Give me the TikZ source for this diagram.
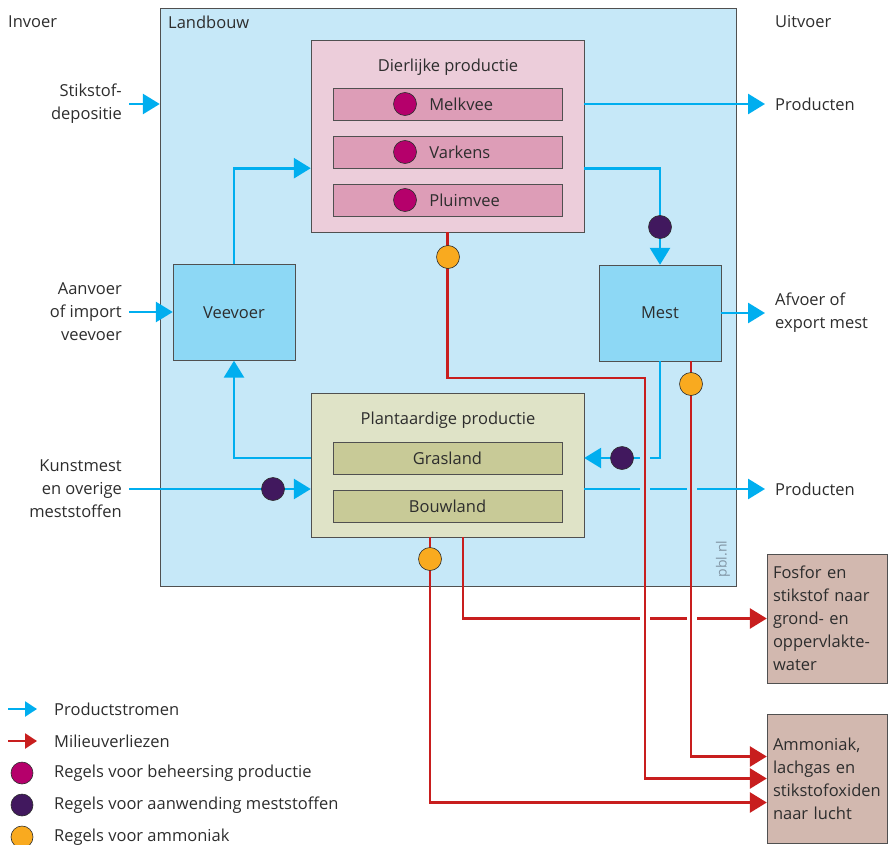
\documentclass[tikz,border=0pt]{standalone}
\usepackage{fontspec}
\setmainfont{Open Sans}
\usetikzlibrary{arrows, arrows.meta, positioning}
\definecolor{colorland}{RGB}{198, 232, 248}
\definecolor{colordier}{RGB}{236, 205, 218}
\definecolor{colordieritem}{RGB}{221, 157, 183}
\definecolor{colorplant}{RGB}{223, 227, 199}
\definecolor{colorplantitem}{RGB}{200, 202, 151}
\definecolor{colorstore}{RGB}{141, 216, 245}
\definecolor{colorloss}{RGB}{210, 184, 175}
\definecolor{colorblue}{RGB}{0, 174, 239}
\definecolor{colorred}{RGB}{200, 30, 30}
\definecolor{colormagenta}{RGB}{181, 0, 107}
\definecolor{colorpurple}{RGB}{65, 24, 94}
\definecolor{colororange}{RGB}{249, 170, 31}
\definecolor{colorborder}{RGB}{80, 80, 80}
\definecolor{colortext}{RGB}{45, 45, 45}
\definecolor{colorpbl}{RGB}{130, 150, 165}
\tikzstyle{landbox} = [rectangle, minimum width=576pt, minimum height=578pt, draw=colorborder, fill=colorland]
\tikzstyle{dierbox} = [rectangle, minimum width=273pt, minimum height=192pt, draw=colorborder, fill=colordier]
\tikzstyle{dieritem} = [rectangle, minimum width=229pt, minimum height=32pt, draw=colorborder, fill=colordieritem]
\tikzstyle{plantbox} = [rectangle, minimum width=273pt, minimum height=144pt, draw=colorborder, fill=colorplant]
\tikzstyle{plantitem} = [rectangle, minimum width=229pt, minimum height=32pt, text centered, draw=colorborder, fill=colorplantitem]
\tikzstyle{opslag} = [rectangle, minimum width=122pt, minimum height=96pt, text centered, draw=colorborder, fill=colorstore]
\tikzstyle{verlies} = [rectangle, minimum width=120pt, minimum height=129pt, text width=108pt, inner xsep=6pt, align=left, draw=colorborder, fill=colorloss]
\tikzstyle{titel} = [anchor=west, inner xsep=0pt]
\tikzstyle{invoertekst} = [anchor=east, align=right, inner xsep=7pt]
\tikzstyle{uitvoertekst} = [anchor=west, align=left, inner xsep=10pt]
\tikzstyle{legendtekst} = [anchor=west, inner xsep=0pt]
\tikzstyle{beheersregel} = [circle, minimum size=23pt, inner sep=0pt, draw=colortext, line width=0.6pt, fill=colormagenta]
\tikzstyle{aanwendregel} = [circle, minimum size=23pt, inner sep=0pt, draw=colortext, line width=0.6pt, fill=colorpurple]
\tikzstyle{ammoniakregel} = [circle, minimum size=23pt, inner sep=0pt, draw=colortext, line width=0.6pt, fill=colororange]
\tikzstyle{arrow} = [line width=2.8pt, draw=colorblue, -{Triangle[length=17pt,width=20pt]}]
\tikzstyle{redarrow} = [line width=2.8pt, draw=colorred, -{Triangle[length=17pt,width=20pt]}]
\tikzstyle{legendarrow} = [line width=2.4pt, draw=colorblue, -{Triangle[length=12pt,width=15pt]}]
\tikzstyle{redlegendarrow} = [line width=2.4pt, draw=colorred, -{Triangle[length=12pt,width=15pt]}]

\begin{document}
\begin{tikzpicture}[x=1pt, y=-1pt, node distance=48pt, text=colortext, font=\fontsize{16.5pt}{23pt}\selectfont]
\useasboundingbox (0,0) rectangle (888,845);

% Nodes
\node (landbouw) [landbox] at (448,297) {};
\node (invoer) [titel] at (8,22) {Invoer};
\node (landbouwtitel) [titel] at (168,22) {Landbouw};
\node (uitvoer) [titel] at (775,22) {Uitvoer};

\node (dier) [dierbox] at (447.5,136) {};
\node (diertitel) at (448,67) {Dierlijke productie};
\node (melkvee) [dieritem] at (447.5,104) {};
\node (varkens) [dieritem, below of=melkvee] {};
\node (pluimvee) [dieritem, below of=varkens] {};
\node (beheersdot1) [beheersregel] at (405,104) {};
\node (beheersdot2) [beheersregel, below of=beheersdot1] {};
\node (beheersdot3) [beheersregel, below of=beheersdot2] {};
\node [right=9pt of beheersdot1] {Melkvee};
\node [right=9pt of beheersdot2] {Varkens};
\node [right=9pt of beheersdot3] {Pluimvee};

\node (veevoer) [opslag] at (234,312.5) {Veevoer};
\node (mest) [opslag] at (660,313) {Mest};

\node (plant) [plantbox] at (447.5,465) {};
\node (planttitel) at (448,420) {Plantaardige productie};
\node (grasland) [plantitem] at (447.5,458) {Grasland};
\node (bouwland) [plantitem, below of=grasland] {Bouwland};

\node (stikstof) [invoertekst] at (129,104) {Stikstof-\\depositie};
\node (aanvoer) [invoertekst] at (129,312) {Aanvoer\\of import\\veevoer};
\node (kunstmest) [invoertekst] at (129,489) {Kunstmest\\en overige\\meststoffen};

\node (producten1) [uitvoertekst] at (765,104) {Producten};
\node (afvoer) [uitvoertekst] at (765,313) {Afvoer of\\export mest};
\node (producten2) [uitvoertekst] at (765,489) {Producten};

\node (fosfor) [verlies] at (827,618.5) {Fosfor en\\stikstof naar\\grond- en\\oppervlakte-\\water};
\node (lucht) [verlies] at (827,778.5) {Ammoniak,\\lachgas en\\stikstofoxiden\\naar lucht};

\node (pbl) [rotate=90, text=colorpbl, font=\fontsize{14pt}{16pt}\selectfont] at (723,559) {pbl.nl};

\coordinate (knik) at (645,378);

% Productstromen
\draw [arrow] (stikstof.east) -- (stikstof.east -| landbouw.west);
\draw [arrow] (aanvoer.east) -- (aanvoer.east -| veevoer.west);
\draw [arrow] (kunstmest.east) -- (kunstmest.east -| plant.west);
\draw [arrow] (veevoer.north) |- (varkens.south -| dier.west);
\draw [arrow] (plant.west |- grasland) -| (veevoer.south);
\draw [arrow] (dier.east |- producten1) -- (producten1.west);
\draw [arrow] (varkens.south -| dier.east) -| (mest.north);
\draw [arrow] (mest.east) -- (mest.east -| afvoer.west);
\draw [arrow] (mest.south) |- (grasland -| plant.east);
\draw [arrow] (plant.east |- producten2) -- (producten2.west);

% Milieuverliezen
\draw [redarrow] ([xshift=15.5pt]plant.south) |- (fosfor.west);

% Onderbrekingen bij kruisingen
\fill [colorland] (640,454) rectangle (650,462);
\fill [colorland] (640,485) rectangle (650,493);
\fill [colorland] (687,485) rectangle (697,493);
\fill [white] (640,614) rectangle (650,623);
\fill [white] (687,614) rectangle (697,623);

\draw [redarrow] (dier.south) |- (knik) |- (lucht.west);
\draw [redarrow] ([xshift=31pt]mest.south) |- ([yshift=22pt]lucht.west);
\draw [redarrow] ([xshift=-17.5pt]plant.south) |- ([yshift=-24pt]lucht.west);

% Regels
\node (ammdot1) [ammoniakregel] at (448,257) {};
\node (ammdot2) [ammoniakregel] at (691,384) {};
\node (ammdot3) [ammoniakregel] at (430,559) {};
\node (aanwdot1) [aanwendregel] at (660,227) {};
\node (aanwdot2) [aanwendregel] at (622,458) {};
\node (aanwdot3) [aanwendregel] at (273,489) {};

% Legenda
\coordinate (legblauwA) at (8,709);
\coordinate (legblauwB) at (37,709);
\coordinate (legroodA) at (8,741);
\coordinate (legroodB) at (37,741);
\draw [legendarrow] (legblauwA) -- (legblauwB);
\draw [redlegendarrow] (legroodA) -- (legroodB);
\node (legblauw) [legendtekst] at (54,709) {Productstromen};
\node (legrood) [legendtekst] at (54,741) {Milieuverliezen};
\node (legbeheers) [beheersregel, minimum size=22pt] at (22,773) {};
\node (legaanwend) [aanwendregel, minimum size=22pt] at (22,805) {};
\node (legammoniak) [ammoniakregel, minimum size=22pt] at (22,837) {};
\node [legendtekst] at (54,773) {Regels voor beheersing productie};
\node [legendtekst] at (54,805) {Regels voor aanwending meststoffen};
\node [legendtekst] at (54,837) {Regels voor ammoniak};

\end{tikzpicture}
\end{document}
